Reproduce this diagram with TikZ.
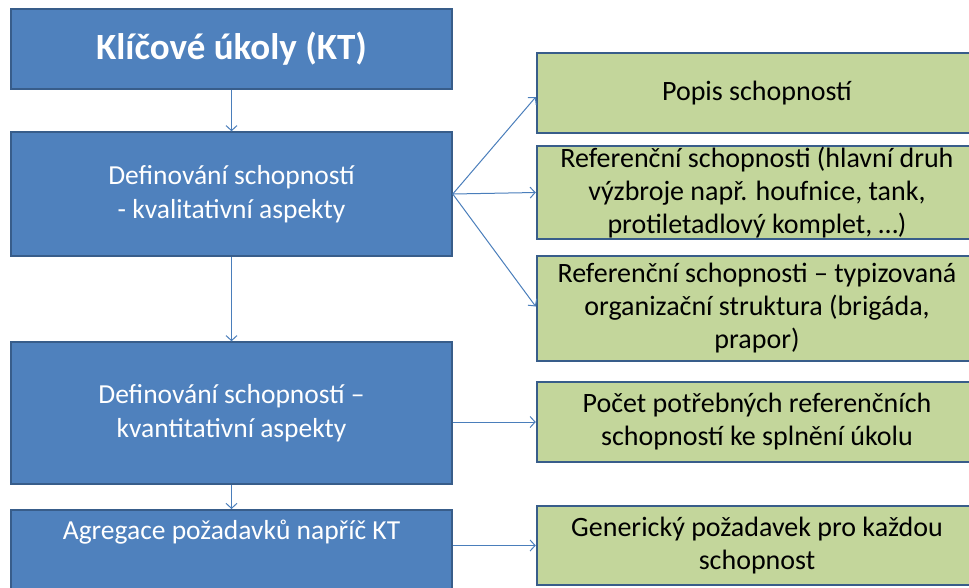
\documentclass[tikz,border=0pt]{standalone}
\usepackage{fontspec}
\setmainfont{Carlito}
\usetikzlibrary{arrows.meta,calc}
\definecolor{boxblue}{HTML}{4F81BD}
\definecolor{edgeblue}{HTML}{385D8A}
\definecolor{boxgreen}{HTML}{C3D69B}
\definecolor{linkblue}{HTML}{4A7EBB}
\begin{document}
\begin{tikzpicture}[x=1pt,y=-1pt,
  bluebox/.style={draw=edgeblue, line width=1.5pt, fill=boxblue, text=white,
    align=center, font=\fontsize{27.5}{34}\selectfont, minimum width=441pt, inner sep=0pt},
  greenbox/.style={draw=edgeblue, line width=2.5pt, fill=boxgreen, text=black,
    align=center, font=\fontsize{28}{33}\selectfont, minimum width=440pt, inner sep=0pt},
  link/.style={draw=linkblue, line width=1pt, -{Straight Barb[length=5pt,width=11pt]}}]
\useasboundingbox (0,0) rectangle (969,587);
\clip (0,0) rectangle (969,587);

% main chain of steps
\node[bluebox, minimum height=80pt, font=\bfseries\fontsize{37}{40}\selectfont] (kt) at (231.5,49) {Klíčové úkoly (KT)};
\node[bluebox, minimum height=124pt] (qual) at (231.5,194) {Definování schopností\\- kvalitativní aspekty};
\node[bluebox, minimum height=142pt] (quant) at (231.5,413) {Definování schopností –\\kvantitativní aspekty};
\node[bluebox, minimum height=100pt, anchor=north] (agg) at (231.5,509) {};
\node[text=white, font=\fontsize{27.5}{34}\selectfont, anchor=base, inner sep=0pt] (aggtext) at (231.5,539) {Agregace požadavků napříč KT};

% outputs
\node[greenbox, minimum height=80pt] (g1) at (757,93) {Popis schopností};
\node[greenbox, minimum height=93pt] (g2) at (757,192.5) {Referenční schopnosti (hlavní druh\\výzbroje např. houfnice, tank,\\protiletadlový komplet, …)};
\node[greenbox, minimum height=105pt] (g3) at (757,308.5) {Referenční schopnosti – typizovaná\\organizační struktura (brigáda,\\prapor)};
\node[greenbox, minimum height=80pt] (g4) at (757,422) {Počet potřebných referenčních\\schopností ke splnění úkolu};
\node[greenbox, minimum height=79pt] (g5) at (757,545.5) {Generický požadavek pro každou\\schopnost};

% connectors
\draw[link] (kt.south) -- (qual.north);
\draw[link] (qual.south) -- (quant.north);
\draw[link] (quant.south) -- (agg.north);
\draw[link] (qual.east) -- ($(g1.west)+(0,4)$);
\draw[link] (qual.east) -- (g2.west);
\draw[link] (qual.east) -- ($(g3.west)+(0,-2)$);
\draw[link] (quant.east |- g4.west) -- (g4.west);
\draw[link] (agg.east |- g5.west) -- (g5.west);
\end{tikzpicture}
\end{document}
